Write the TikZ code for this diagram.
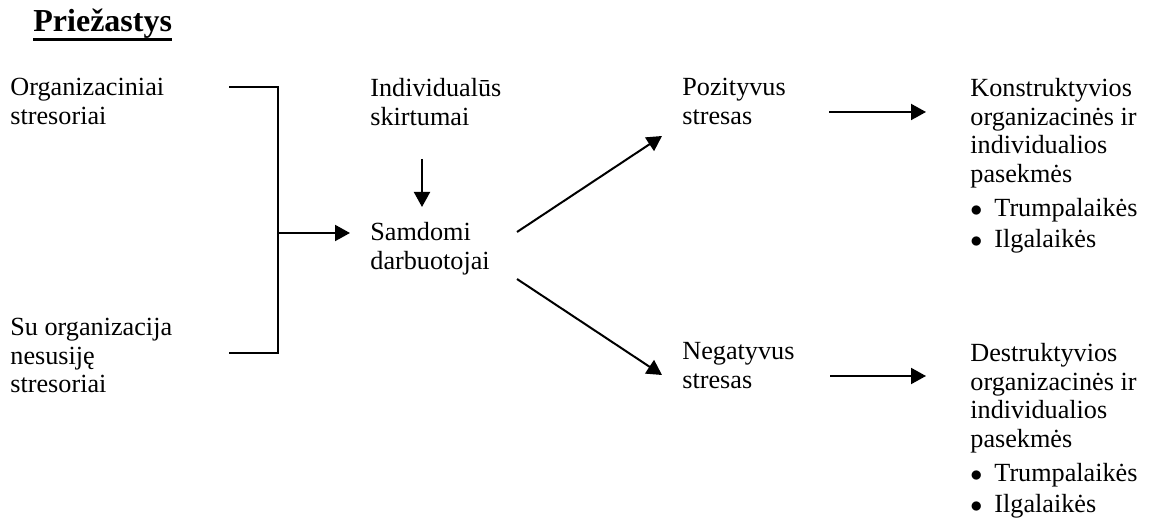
\documentclass[tikz,border=0pt]{standalone}
\usepackage{fontspec}
\setmainfont{Liberation Serif}
\usetikzlibrary{arrows.meta, positioning}

\newcommand{\blt}{$\bullet$\hspace{6pt}}

\begin{document}
\begin{tikzpicture}[x=0.5pt, y=-0.5pt,
  txt/.style={anchor=north west, align=left, inner sep=0pt, font=\fontsize{13.1}{14.3}\selectfont, execute at begin node=\strut},
  ttl/.style={anchor=base west, inner sep=0pt, font=\fontsize{16}{18}\selectfont\bfseries},
  arr/.style={-{Triangle[length=7.5pt, width=8pt]}, line width=1pt},
  ln/.style={line width=1pt}]
\useasboundingbox (0,0) rectangle (1156,523);
% title
\node[ttl] (title) at (33,32) {Priežastys};
\draw[line width=1.5pt] ([yshift=-3.7pt]title.base west) -- ([yshift=-3.7pt]title.base east);
% causes (node top = first baseline - 20)
\node[txt] (org) at (10,78) {Organizaciniai\\stresoriai};
\node[txt] (nes) at (10,318) {Su organizacija\\nesusiję\\stresoriai};
\node[txt] (ind) at (370,78) {Individualūs\\skirtumai};
\node[txt] (sam) at (370,222) {Samdomi\\darbuotojai};
\node[txt] (poz) at (682,78) {Pozityvus\\stresas};
\node[txt] (neg) at (682,342) {Negatyvus\\stresas};
\node[txt] (kon) at (970,78) {Konstruktyvios\\organizacinės ir\\individualios\\pasekmės\\[3pt]
  \blt Trumpalaikės\\[1pt]\blt Ilgalaikės};
\node[txt] (des) at (970,343) {Destruktyvios\\organizacinės ir\\individualios\\pasekmės\\[3pt]
  \blt Trumpalaikės\\[1pt]\blt Ilgalaikės};
% bracket
\coordinate (brtop) at (229,87);
\coordinate (brbot) at (229,353);
\coordinate (brmid) at (278,233);
\draw[ln] (brtop) -- (278,87) -- (278,353) -- (brbot);
\draw[arr] (brmid) -- ([xshift=-10pt]sam.west |- brmid);
% arrows
\coordinate (indout) at (422,159);
\coordinate (samin) at (422,207);
\draw[arr] (indout) -- (samin);
\coordinate (samup) at (517,232);
\coordinate (samdn) at (517,279);
\coordinate (pozin) at (662,136);
\coordinate (negin) at (662,375);
\draw[arr] (samup) -- (pozin);
\draw[arr] (samdn) -- (negin);
\coordinate (pozout) at (829,112);
\coordinate (konin) at (926,112);
\draw[arr] (pozout) -- (konin);
\coordinate (negout) at (830,376);
\coordinate (desin) at (926,376);
\draw[arr] (negout) -- (desin);
\end{tikzpicture}
\end{document}
